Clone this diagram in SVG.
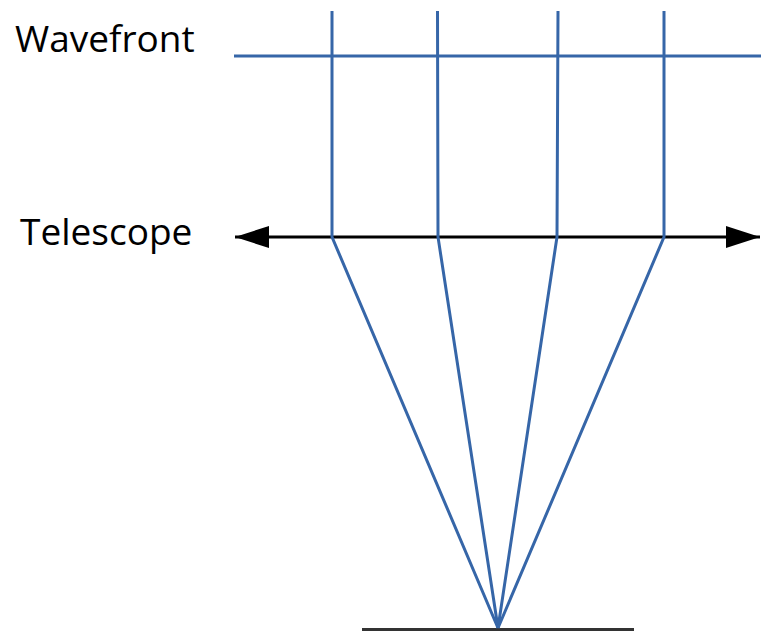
<svg xmlns="http://www.w3.org/2000/svg" width="761" height="631" viewBox="0 0 761 631">
<defs>
<style>
.ray{stroke:#3666a8;stroke-width:3;fill:none;stroke-linecap:butt}
.lbl{font-family:"Open Sans","Noto Sans",sans-serif;font-size:37px;fill:#000}
</style>
<marker id="ah" markerWidth="34" markerHeight="22" refX="34" refY="11" orient="auto-start-reverse" markerUnits="userSpaceOnUse">
<path d="M0,0 L34,11 L0,22 Z" fill="#000"/>
</marker>
</defs>
<rect width="761" height="631" fill="#fff"/>
<g id="wavefront-label"><text class="lbl" x="15" y="52">Wavefront</text></g>
<g id="telescope-label"><text class="lbl" x="20" y="245">Telescope</text></g>
<g id="wavefront"><line class="ray" x1="234" y1="56" x2="761" y2="56"/></g>
<g id="telescope"><line x1="235" y1="237" x2="760" y2="237" stroke="#000" stroke-width="3" marker-start="url(#ah)" marker-end="url(#ah)"/></g>
<g id="detector"><line x1="362" y1="629.5" x2="634" y2="629.5" stroke="#333" stroke-width="3"/></g>
<g id="connectors">
<polyline class="ray" points="332,11 332,237 498,628"/>
<polyline class="ray" points="437.5,11 438,237 498,628"/>
<polyline class="ray" points="558,11 557,237 498,628"/>
<polyline class="ray" points="664,11 664,237 498,628"/>
</g>
</svg>
